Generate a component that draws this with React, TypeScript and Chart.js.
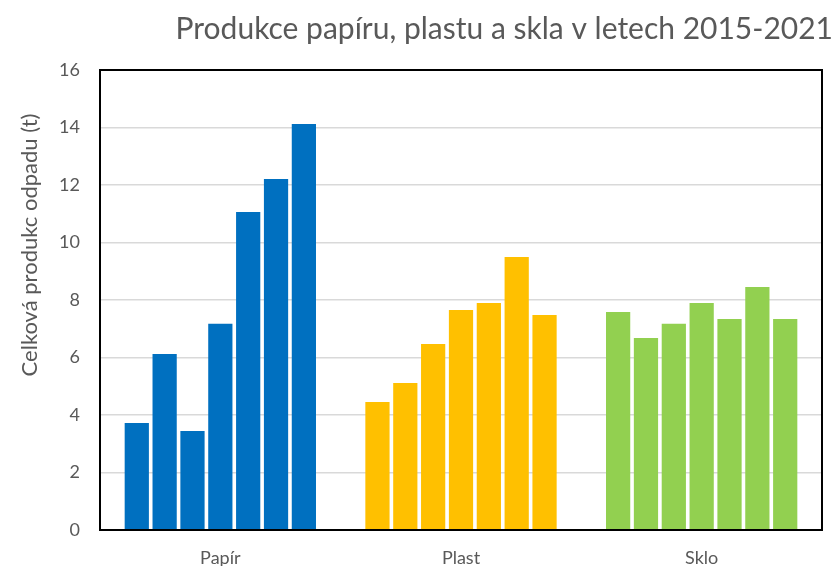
import React, { useEffect, useRef } from "react";
import { Chart, registerables } from "chart.js";

Chart.register(...registerables);

const categories = ["Papír", "Plast", "Sklo"];
const years = ["2015", "2016", "2017", "2018", "2019", "2020", "2021"];
const papir = [3.72, 6.12, 3.44, 7.17, 11.06, 12.21, 14.12];
const plast = [4.45, 5.11, 6.47, 7.65, 7.9, 9.5, 7.48];
const sklo = [7.58, 6.68, 7.17, 7.9, 7.34, 8.45, 7.34];
const categoryColors = ["#0070C0", "#FFC000", "#92D050"];
const yTicks = { min: 0, max: 16, step: 2 };
const titleText = "Produkce papíru, plastu a skla v letech 2015-2021";
const yTitleText = "Celková produkc odpadu (t)";

const FONT = "Lato, 'Open Sans', sans-serif";

const framePlugin = {
  id: "frame",
  afterDraw(chart: any) {
    const { ctx, chartArea } = chart;
    ctx.save();
    ctx.strokeStyle = "#000000";
    ctx.lineWidth = 2;
    ctx.strokeRect(chartArea.left, chartArea.top, chartArea.right - chartArea.left, chartArea.bottom - chartArea.top);
    // title
    ctx.fillStyle = "#595959";
    ctx.font = `30px ${FONT}`;
    ctx.textAlign = "right";
    ctx.textBaseline = "alphabetic";
    ctx.fillText(titleText, 833, 39);
    // y title
    ctx.translate(30, 245);
    ctx.rotate(-Math.PI / 2);
    ctx.font = `22px ${FONT}`;
    ctx.textAlign = "center";
    ctx.textBaseline = "middle";
    ctx.fillText(yTitleText, 0, 0);
    ctx.restore();
  },
};

export default function App() {
  const ref = useRef<HTMLCanvasElement>(null);
  useEffect(() => {
    if (!ref.current) return;
    const datasets = years.map((y, i) => ({
      label: y,
      data: [papir[i], plast[i], sklo[i]],
      backgroundColor: categoryColors,
      borderWidth: 0,
      categoryPercentage: 0.81,
      barPercentage: 0.87,
    }));
    const chart = new Chart(ref.current, {
      type: "bar",
      data: { labels: categories, datasets },
      options: {
        animation: false,
        responsive: false,
        maintainAspectRatio: false,
        layout: { padding: { left: 0, right: 14, top: 70, bottom: 0 } },
        plugins: {
          legend: { display: false },
          title: { display: false },
          tooltip: { enabled: false },
        },
        scales: {
          x: {
            grid: { display: false },
            border: { display: true, color: "#000", width: 2 },
            ticks: { color: "#595959", font: { family: FONT, size: 18 }, padding: 9 },
            afterFit: (s: any) => { s.height = 36; },
          },
          y: {
            min: yTicks.min,
            max: yTicks.max,
            ticks: { stepSize: yTicks.step, color: "#595959", font: { family: FONT, size: 18 }, padding: 20 },
            grid: { color: "#d9d9d9", lineWidth: 1.5, drawTicks: false },
            border: { display: true, color: "#000", width: 2 },
            afterFit: (s: any) => { s.width = 100; },
          },
        },
      },
      plugins: [framePlugin],
    });
    return () => chart.destroy();
  }, []);
  return (
    <div style={{ position: "fixed", left: 0, top: 0, width: 836, height: 566, background: "#fff" }}>
      <canvas ref={ref} width={836} height={566} style={{ width: 836, height: 566 }} />
    </div>
  );
}
